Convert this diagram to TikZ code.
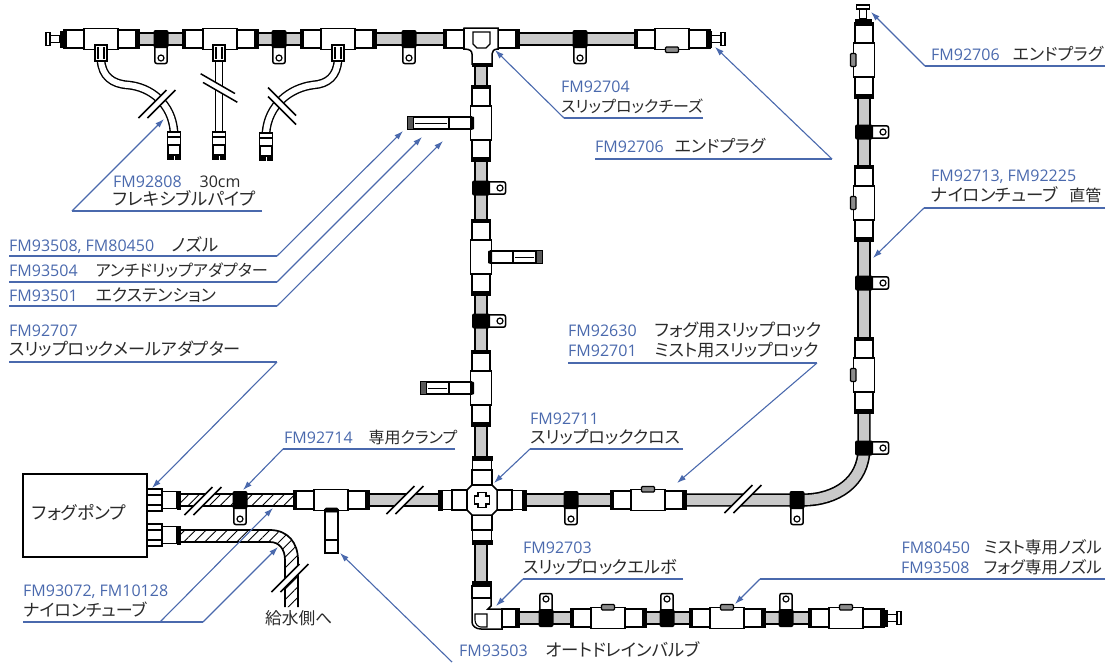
\documentclass[tikz,border=0pt]{standalone}
\usepackage{fontspec}
\setmainfont{Open Sans}
\newfontfamily\jpfont[RawFeature=+palt]{Noto Sans CJK JP}
\usetikzlibrary{arrows.meta,patterns.meta}
\definecolor{fmblue}{HTML}{4A69AD}
\definecolor{inktext}{HTML}{2A2A2A}
\definecolor{pipegray}{HTML}{C9C9C9}
\newcommand{\fmc}[1]{{\color{fmblue}#1}}
\newcommand{\jpc}[2][17]{{\fontsize{#1}{18}\selectfont\jpfont\color{inktext}#2}}
\begin{document}
\begin{tikzpicture}[x=1pt,y=-1pt]

    \tikzset{
      pipeline/.style={line width=1.6pt,double=pipegray,double distance=10pt},
      flexline/.style={line width=1.4pt,double=white,double distance=6pt},
      partbox/.style={draw,fill=white,line width=1.5pt},
      partcap/.style={draw,fill=black,line width=.6pt},
      leader/.style={draw=fmblue,line width=1.1pt,-{Latex[length=9pt,width=6pt]}},
      under/.style={draw=fmblue,line width=1.1pt},
      hatchfill/.style={pattern={Lines[angle=45,distance=7.5pt,line width=.9pt]}},
      txt/.style={anchor=base west,inner sep=0pt,font=\fontsize{16}{18}\selectfont,text=inktext},
      pics/clampfit/.style={code={
        \draw[partbox,rounded corners=2pt] (-6.2,6) -- (-6.2,24.5) -- (6.2,24.5) -- (6.2,6);
        \draw[line width=1.2pt] (0,19) circle (3);
        \fill[rounded corners=2pt] (-7.5,-9) rectangle (7.5,9);
      }},
      pics/unionfit/.style={code={
        \draw[partbox] (-36,-9) rectangle (36,9);
        \draw[partbox] (-17,-10.5) rectangle (17,10.5);
        \fill[partcap] (-38,-9.6) rectangle (-34.5,9.6);
        \fill[partcap] (34.5,-9.6) rectangle (38,9.6);
      }},
      pics/tabfit/.style={code={
        \draw[fill=black!45,line width=1.3pt,rounded corners=1pt] (-6.5,-13.5) rectangle (6.5,-8);
      }},
      pics/plugfit/.style={code={
        \fill[partcap] (0,-8) rectangle (3,8);
        \draw[partbox] (3,-3.5) rectangle (13,3.5);
        \draw[fill=white,line width=1.2pt] (13,-6.5) rectangle (17,6.5);
      }},
      pics/nozzlefit/.style={code={
        \draw[partbox] (3,-6) rectangle (25,6);
        \draw[partbox] (25,-6) rectangle (#1-6,6);
        \draw[line width=1pt] (27,0) -- (#1-8,0);
        \draw[fill=black!65,line width=1pt] (#1-6,-6.5) rectangle (#1,6.5);
        \fill[rounded corners=1pt] (0,-6.5) rectangle (4,6.5);
      }},
      pics/stubfit/.style={code={
        \draw[partbox] (-6,0) rectangle (6,16);
        \draw[line width=1.1pt] (-3,2) -- (-3,14) (3,2) -- (3,14);
      }},
      pics/flexend/.style={code={
        \draw[partbox] (-6.5,0) rectangle (6.5,13);
        \draw[line width=1.5pt] (-6.5,5) -- (6.5,5);
        \draw[partbox] (-6,13) rectangle (6,23);
        \fill[partcap] (-6.5,23) rectangle (-.8,27);
        \fill[partcap] (.8,23) rectangle (6.5,27);
      }},
      pics/breakfit/.style={code={
        \fill[white] (-18.5,14) -- (9.5,-14) -- (18.5,-14) -- (-9.5,14) -- cycle;
        \draw[line width=1.5pt] (-18.5,14) -- (9.5,-14) (-9.5,14) -- (18.5,-14);
      }},
      pics/pumpfit/.style={code={
        \draw[partbox] (15,-8.5) rectangle (30,8.5);
        \draw[partbox] (0,-11) rectangle (15,11);
        \draw[line width=1.2pt] (0,-5) -- (15,-5) (0,5) -- (15,5);
        \fill[partcap] (30,-9) rectangle (33,9);
      }},
      pics/crossarm/.style={code={
        \draw[partbox] (15,-10) rectangle (30,10);
        \draw[partbox] (30,-9.5) rectangle (41,9.5);
        \fill[partcap] (40,-10) rectangle (44,10);
      }},
    }
    \useasboundingbox (0,0) rectangle (1112,662);

    % tubes
    \draw[pipeline] (138,39) -- (182,39) (257,39) -- (301,39) (375,39) -- (634,39);
    \draw[pipeline] (481,62) -- (481,85) (481,162) -- (481,219) (481,296) -- (481,350) (481,426) -- (481,457) (481,545) -- (481,581);
    \draw[pipeline] (369,500) -- (438,500) (525,500) -- (610,500);
    \draw[pipeline] (687,500) -- (803,500) .. controls (836,500) and (864,482) .. (864,448) -- (864,413);
    \draw[pipeline] (864,337) -- (864,241) (864,165) -- (864,98);
    \draw[pipeline] (519,618) -- (570,618) (646,618) -- (689,618) (765,618) -- (808,618);

    % flexible pipes
    \draw[flexline] (101,60) .. controls (102,76) and (112,84) .. (128,85) .. controls (150,87) and (172,103) .. (174,132);
    \draw[flexline] (219,60) -- (219,132);
    \draw[flexline] (338,60) .. controls (337,76) and (328,84) .. (313,85) .. controls (290,88) and (268,105) .. (266,133);

    % hatched tubes
    \fill[hatchfill] (179,495) rectangle (294,506);
    \draw[line width=1.7pt] (179,494) -- (294,494) (179,506) -- (294,506);
    \fill[hatchfill] (179,530) -- (270,530) .. controls (288,530) and (298,543) .. (298,560) -- (298,607) -- (285,607) -- (285,560) .. controls (285,549) and (279,542) .. (270,542) -- (179,542) -- cycle;
    \draw[line width=1.7pt] (179,530) -- (270,530) .. controls (288,530) and (298,543) .. (298,560) -- (298,607);
    \draw[line width=1.7pt] (179,542) -- (270,542) .. controls (279,542) and (285,549) .. (285,560) -- (285,607);

    % top row
    \pic at (101,39) {unionfit};
    \pic at (220,39) {unionfit};
    \pic at (338,39) {unionfit};
    \pic at (101,45) {stubfit};
    \pic at (219,45) {stubfit};
    \pic at (338,45) {stubfit};
    \pic at (174,132) {flexend};
    \pic at (219,132) {flexend};
    \pic at (266,133) {flexend};
    \pic[rotate=180] at (63,39) {plugfit};
    \pic at (672,39) {unionfit};
    \pic[rotate=180] at (672,39) {tabfit};
    \pic at (708,39) {plugfit};
    \foreach \cx in {161,279,409,580} {
      \pic at (\cx,39) {clampfit};
    }

    % tee on the top row
    \pic at (481,39) {unionfit};
    \draw[partbox] (464,28) -- (498,28) -- (498,49) .. controls (494,49) and (492,51) .. (492,54) -- (492,64) -- (472,64) -- (472,54) .. controls (472,51) and (470,49) .. (464,49) -- cycle;
    \draw[line width=1.1pt] (473,32) -- (490,32) -- (490,44) -- (486,48) -- (477,48) -- (473,44) -- cycle;
    \fill[partcap] (472,63) rectangle (492,66);

    % vertical column
    \pic[rotate=90] at (481,123) {unionfit};
    \pic[rotate=90] at (481,257) {unionfit};
    \pic[rotate=90] at (481,388) {unionfit};
    \pic[rotate=180] at (474,123) {nozzlefit=67};
    \pic at (488,257) {nozzlefit=54};
    \pic[rotate=180] at (474,388) {nozzlefit=54};
    \pic[rotate=90] at (481,188) {clampfit};
    \pic[rotate=90] at (481,321) {clampfit};

    % right column
    \foreach \uy in {60,203,375} {
      \pic[rotate=90] at (864,\uy) {unionfit};
      \pic[rotate=90] at (864,\uy) {tabfit};
    }
    \pic[rotate=90] at (863,22) {plugfit};
    \foreach \cy in {132,283,448} {
      \pic[rotate=90] at (864,\cy) {clampfit};
    }

    % main row
    \draw[partbox] (23,474) rectangle (147,557);
    \node[txt] (pumplabel) at (32,519) {\jpc[17.8]{フォグポンプ}};
    \pic at (147,500) {pumpfit};
    \pic at (147,535) {pumpfit};
    \pic at (331,500) {unionfit};
    \draw[partbox] (325,510) rectangle (338,553);
    \draw[line width=1.5pt] (325,540) -- (338,540);
    \fill[partcap,rounded corners=1pt] (325,508) rectangle (338,512);
    \pic at (240,500) {clampfit};
    \pic at (571,500) {clampfit};
    \pic at (797,500) {clampfit};
    \pic at (648,500) {unionfit};
    \pic at (648,500) {tabfit};

    % cross
    \foreach \armrot in {0,90,180,270} {
      \pic[rotate=\armrot] at (482,500) {crossarm};
    }
    \draw[partbox] (472,485) -- (492,485) -- (497,490) -- (497,510) -- (492,515) -- (472,515) -- (467,510) -- (467,490) -- cycle;
    \draw[line width=1.5pt] (478,492.5) -- (486,492.5) -- (486,496) -- (489.5,496) -- (489.5,504) -- (486,504) -- (486,507.5) -- (478,507.5) -- (478,504) -- (474.5,504) -- (474.5,496) -- (478,496) -- cycle;

    % bottom row
    \fill[partcap] (472,581) rectangle (491,586);
    \draw[partbox] (472,586) rectangle (491,598);
    \draw[partbox] (472,598) -- (472,622) .. controls (472,626) and (476,629) .. (481,629) -- (502,629) -- (502,609) -- (488,609) -- (491,606) -- (491,598) -- cycle;
    \draw[line width=1.1pt] (475,614) -- (487,614) -- (487,627) -- (481,627) .. controls (478,627) and (475,624) .. (475,620) -- cycle;
    \draw[partbox] (502,609) rectangle (516,627);
    \fill[partcap] (515,608.5) rectangle (519,627.5);
    \foreach \ux in {608,727,846} {
      \pic at (\ux,618) {unionfit};
      \pic at (\ux,618) {tabfit};
    }
    \pic at (884,618) {plugfit};
    \foreach \cx in {546,667,786} {
      \pic[rotate=180] at (\cx,618) {clampfit};
    }

    % breaks
    \pic at (157,104) {breakfit};
    \pic[rotate=-75] at (219,88) {breakfit};
    \pic[rotate=-90] at (282,106) {breakfit};
    \pic at (203,501) {breakfit};
    \pic at (405,500) {breakfit};
    \pic at (743,499) {breakfit};
    \pic at (290,578) {breakfit};

    % labels
    \node[txt] (flexcode) at (113,187) {\fmc{FM92808}\hspace{18pt}30cm};
    \node[txt] (flexname) at (113,205) {\jpc[17.5]{フレキシブルパイプ}};
    \node[txt] (nozzlecode) at (9,251) {\fmc{FM93508, FM80450}\hspace{18pt}\jpc[17.5]{ノズル}};
    \node[txt] (dripcode) at (9,276.5) {\fmc{FM93504}\hspace{18pt}\jpc[16.2]{アンチドリップアダプター}};
    \node[txt] (extcode) at (9,301) {\fmc{FM93501}\hspace{18pt}\jpc{エクステンション}};
    \node[txt] (malecode) at (9,336) {\fmc{FM92707}};
    \node[txt] (malename) at (9,355) {\jpc[17.2]{スリップロックメールアダプター}};
    \node[txt] (clampcode) at (284,443) {\fmc{FM92714}\hspace{16pt}\jpc[16]{専用クランプ}};
    \node[txt] (crosscode) at (530,424) {\fmc{FM92711}};
    \node[txt] (crossname) at (530,443) {\jpc{スリップロッククロス}};
    \node[txt] (fogcode) at (568,336) {\fmc{FM92630}\hspace{18pt}\jpc[17.4]{フォグ用スリップロック}};
    \node[txt] (mistcode) at (568,356) {\fmc{FM92701}\hspace{18pt}\jpc[17.1]{ミスト用スリップロック}};
    \node[txt] (teecode) at (561,92) {\fmc{FM92704}};
    \node[txt] (teename) at (561,112) {\jpc[16]{スリップロックチーズ}};
    \node[txt] (plugcode) at (595,152) {\fmc{FM92706}\hspace{11pt}\jpc{エンドプラグ}};
    \node[txt] (plugtop) at (931,60) {\fmc{FM92706}\hspace{13pt}\jpc{エンドプラグ}};
    \node[txt] (tubecode) at (931,181) {\fmc{FM92713, FM92225}};
    \node[txt] (tubename) at (931,201) {\jpc[17.4]{ナイロンチューブ}\hspace{12pt}\jpc[16]{直管}};
    \node[txt,anchor=base east] (mistnozzle) at (1102,553) {\fmc{FM80450}\hspace{14pt}\jpc[16.5]{ミスト専用ノズル}};
    \node[txt,anchor=base east] (fognozzle) at (1102,573) {\fmc{FM93508}\hspace{14pt}\jpc[16.5]{フォグ専用ノズル}};
    \node[txt] (elbowcode) at (523,553) {\fmc{FM92703}};
    \node[txt] (elbowname) at (523,573) {\jpc[17.2]{スリップロックエルボ}};
    \node[txt] (draincode) at (459,656) {\fmc{FM93503}\hspace{18pt}\jpc[17.4]{オートドレインバルブ}};
    \node[txt] (hosecode) at (23,596) {\fmc{FM93072, FM10128}};
    \node[txt] (hosename) at (23,616) {\jpc{ナイロンチューブ}};
    \node[txt] (supplylabel) at (265,624) {\jpc[16.7]{給水側へ}};

    % leaders
    \draw[under] (262,211) -- (72,211);
    \draw[leader] (72,211) -- (164,119);
    \draw[under] (9,256) -- (277,256);
    \draw[leader] (277,256) -- (403,131);
    \draw[under] (9,282) -- (277,282);
    \draw[leader] (277,282) -- (422,137);
    \draw[under] (9,306) -- (277,306);
    \draw[leader] (277,306) -- (443,141);
    \draw[under] (9,362) -- (277,362);
    \draw[leader] (277,362) -- (152,488);
    \draw[under] (455,449) -- (283,449);
    \draw[leader] (283,449) -- (243,490);
    \draw[under] (683,449) -- (530,449);
    \draw[leader] (530,449) -- (494,483);
    \draw[under] (568,363) -- (817,363);
    \draw[leader] (817,363) -- (677,483);
    \draw[under] (703,118) -- (564,118);
    \draw[leader] (564,118) -- (495,50);
    \draw[under] (595,159) -- (832,159);
    \draw[leader] (832,159) -- (715,47);
    \draw[under] (1105,66) -- (925,66);
    \draw[leader] (925,66) -- (871,12);
    \draw[under] (1105,208) -- (924,208);
    \draw[leader] (924,208) -- (873,258);
    \draw[under] (1105,579) -- (760,579);
    \draw[leader] (760,579) -- (735,604);
    \draw[under] (683,579) -- (523,579);
    \draw[leader] (523,579) -- (496,606);
    \draw[leader] (452,662) -- (340,553);
    \draw[under] (23,622) -- (203,622);
    \draw[leader] (160,622) -- (273,508);
    \draw[leader] (203,622) -- (278,547);

\end{tikzpicture}
\end{document}
